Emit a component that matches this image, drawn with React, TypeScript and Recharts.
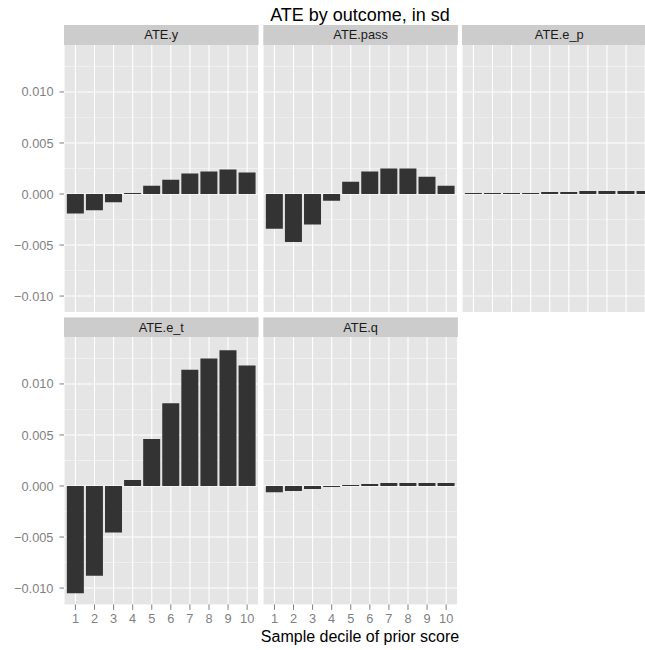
import React from 'react';
import { BarChart, Bar, XAxis, YAxis, CartesianGrid } from 'recharts';

// deciles of prior score
const deciles = ['1', '2', '3', '4', '5', '6', '7', '8', '9', '10'];

// ATE per outcome, in sd
const ateY = [-0.0019, -0.0016, -0.0008, 0.0001, 0.0008, 0.0014, 0.002, 0.0022, 0.0024, 0.0021];
const atePass = [-0.0034, -0.0047, -0.003, -0.00065, 0.0012, 0.0022, 0.0025, 0.0025, 0.0017, 0.0008];
const ateEP = [0.0001, 0.0001, 0.0001, 0.0001, 0.0002, 0.0002, 0.0003, 0.0003, 0.0003, 0.0003];
const ateET = [-0.0105, -0.0088, -0.00455, 0.0006, 0.0046, 0.0081, 0.0114, 0.0125, 0.0133, 0.0118];
const ateQ = [-0.0006, -0.0005, -0.0003, -0.0001, 0.0001, 0.0002, 0.0003, 0.0003, 0.0003, 0.0003];

const yTicks = [-0.01, -0.005, 0, 0.005, 0.01];
const yMinor = [-0.0075, -0.0025, 0.0025, 0.0075, 0.0125];

const FONT = '"Liberation Sans", Arial, Helvetica, sans-serif';
const PANEL_W = 194.6;
const PANEL_H = 267.4;
const COLS = [64, 263.3, 462];
const ROWS = [45, 337.4];
const STRIP_H = 20;
const Y_AXIS_W = 64;
const X_AXIS_H = 45;

const fmt = (v: number) => (v < 0 ? '\u2212' : '') + Math.abs(v).toFixed(3);

interface PanelProps {
    title: string;
    values: number[];
    col: number;
    row: number;
    showY: boolean;
    showX: boolean;
}

const Panel = ({ values, col, row, showY, showX }: PanelProps) => {
    const data = deciles.map((d, i) => ({ decile: d, value: values[i] }));
    const yw = showY ? Y_AXIS_W : 0;
    return (
        <div style={{ position: 'absolute', left: COLS[col] - yw, top: ROWS[row] }}>
            <BarChart
                width={PANEL_W + yw}
                height={PANEL_H + (showX ? X_AXIS_H : 0)}
                data={data}
                margin={{ top: 0, right: 0, bottom: 0, left: 0 }}
                barCategoryGap="5%"
            >
                <CartesianGrid
                    fill="#E5E5E5"
                    stroke="#F4F4F4"
                    strokeWidth={0.7}
                    vertical={false}
                    horizontalValues={yMinor}
                />
                <CartesianGrid
                    fill="none"
                    stroke="#FFFFFF"
                    strokeWidth={1.1}
                    horizontalValues={yTicks}
                />
                <XAxis
                    dataKey="decile"
                    hide={!showX}
                    height={X_AXIS_H}
                    axisLine={false}
                    tickLine={{ stroke: '#7F7F7F' }}
                    tick={{ fill: '#7F7F7F', fontSize: 12.8, fontFamily: FONT }}
                    tickSize={5.5}
                    tickMargin={4}
                    interval={0}
                    padding={{ left: 1.9, right: 1.9 }}
                />
                <YAxis
                    hide={!showY}
                    width={Y_AXIS_W}
                    domain={[-0.0116, 0.0146]}
                    allowDataOverflow
                    ticks={yTicks}
                    interval={0}
                    tickFormatter={fmt}
                    axisLine={false}
                    tickLine={{ stroke: '#7F7F7F' }}
                    tick={{ fill: '#7F7F7F', fontSize: 12.8, fontFamily: FONT }}
                    tickSize={4.5}
                    tickMargin={6}
                />
                <Bar dataKey="value" fill="#333333" isAnimationActive={false} />
            </BarChart>
        </div>
    );
};

const panels = [
    { title: 'ATE.y', values: ateY, col: 0, row: 0, showY: true, showX: false },
    { title: 'ATE.pass', values: atePass, col: 1, row: 0, showY: false, showX: false },
    { title: 'ATE.e_p', values: ateEP, col: 2, row: 0, showY: false, showX: false },
    { title: 'ATE.e_t', values: ateET, col: 0, row: 1, showY: true, showX: true },
    { title: 'ATE.q', values: ateQ, col: 1, row: 1, showY: false, showX: true },
];

const App = () => {
    return (
        <div
            style={{
                position: 'absolute',
                left: 0,
                top: 0,
                width: 645,
                height: 650,
                overflow: 'hidden',
                background: '#FFFFFF',
                fontFamily: FONT,
            }}
        >
            <svg width={645} height={650} style={{ position: 'absolute', left: 0, top: 0 }}>
                <text x={360} y={20.5} textAnchor="middle" fontSize={18} fill="#000000" fontFamily={FONT}>
                    ATE by outcome, in sd
                </text>
                {panels.map((p) => (
                    <g key={p.title}>
                        <rect
                            x={COLS[p.col]}
                            y={ROWS[p.row] - STRIP_H}
                            width={PANEL_W}
                            height={STRIP_H}
                            fill="#CCCCCC"
                        />
                        <text
                            x={COLS[p.col] + PANEL_W / 2}
                            y={ROWS[p.row] - STRIP_H / 2}
                            dy="0.35em"
                            textAnchor="middle"
                            fontSize={12.8}
                            fill="#1A1A1A"
                            fontFamily={FONT}
                        >
                            {p.title}
                        </text>
                    </g>
                ))}
                <text x={360} y={642} textAnchor="middle" fontSize={16} fill="#000000" fontFamily={FONT}>
                    Sample decile of prior score
                </text>
            </svg>
            {panels.map((p) => (
                <Panel key={p.title} {...p} />
            ))}
        </div>
    );
};

export default App;
